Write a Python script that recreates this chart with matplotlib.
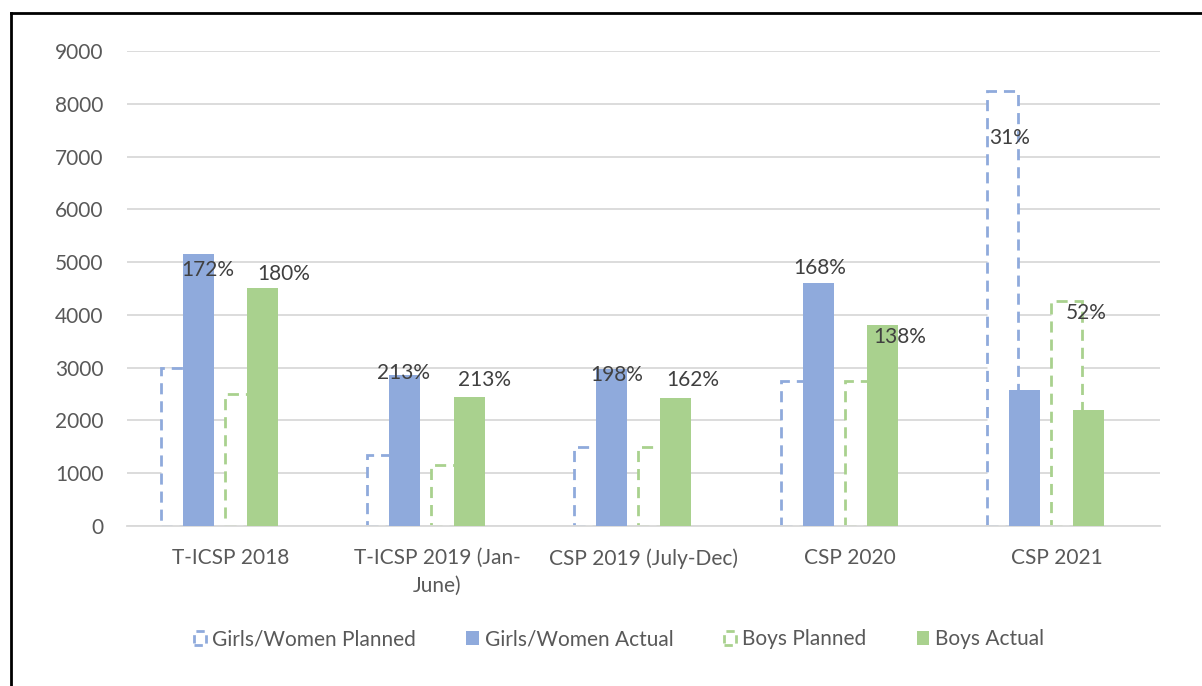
import matplotlib
matplotlib.use('Agg')
import matplotlib.pyplot as plt
from matplotlib.lines import Line2D
from matplotlib.patches import Patch
import numpy as np

plt.rcParams['font.family'] = ['Lato', 'DejaVu Sans']

categories = ["T-ICSP 2018", "T-ICSP 2019 (Jan-\nJune)", "CSP 2019 (July-Dec)",
              "CSP 2020", "CSP 2021"]
gw_planned = [3000, 1350, 1500, 2750, 8250]
gw_actual = [5150, 2860, 2970, 4600, 2580]
boys_planned = [2500, 1150, 1500, 2750, 4270]
boys_actual = [4500, 2440, 2430, 3800, 2190]
gw_pct = ["172%", "213%", "198%", "168%", "31%"]
boys_pct = ["180%", "213%", "162%", "138%", "52%"]

blue = '#8FAADC'
green = '#A9D18E'
text_col = '#595959'

fig = plt.figure(figsize=(12.02, 6.86), dpi=100)
ax = fig.add_axes([0.1057, 0.2332, 0.8595, 0.6925])

x = np.arange(len(categories))
w = 0.15

# planned series drawn first, white-filled with dashed outline
ax.bar(x - 0.262, gw_planned, w, facecolor='white', edgecolor=blue,
       linestyle=(0, (4, 2.5)), linewidth=2, zorder=2)
ax.bar(x + 0.048, boys_planned, w, facecolor='white', edgecolor=green,
       linestyle=(0, (4, 2.5)), linewidth=2, zorder=2)
ax.bar(x - 0.155, gw_actual, w, color=blue, zorder=3)
ax.bar(x + 0.155, boys_actual, w, color=green, zorder=3)

# data labels (placed roughly where the original has them)
gw_lab_y = [4850, 2900, 2870, 4880, 7350]
boys_lab_y = [4780, 2770, 2770, 3580, 4040]
gw_lab_dx = [-0.11, -0.16, -0.13, -0.15, -0.23]
boys_lab_dx = [0.26, 0.23, 0.24, 0.24, 0.14]
for i in range(len(categories)):
    ax.text(x[i] + gw_lab_dx[i], gw_lab_y[i], gw_pct[i], ha='center', va='center',
            fontsize=15, color='#404040', zorder=5)
    ax.text(x[i] + boys_lab_dx[i], boys_lab_y[i], boys_pct[i], ha='center',
            va='center', fontsize=15, color='#404040', zorder=5)

ax.set_xlim(-0.5, len(categories) - 0.5)
ax.set_ylim(0, 9000)
ax.set_yticks(range(0, 9001, 1000))
ax.set_xticks(x)
ax.set_xticklabels(categories, linespacing=1.45)
ax.tick_params(axis='both', length=0, labelsize=15, labelcolor=text_col)
ax.tick_params(axis='x', pad=16)
ax.tick_params(axis='y', pad=17)
ax.grid(axis='y', color='#D9D9D9', linewidth=1.3, zorder=0)
ax.set_axisbelow(True)
for s in ['top', 'right', 'left']:
    ax.spines[s].set_visible(False)
ax.spines['bottom'].set_color('#D9D9D9')
ax.spines['bottom'].set_linewidth(1.3)

handles = [
    Patch(facecolor='white', edgecolor=blue, linestyle=(0, (3, 2)), linewidth=2),
    Patch(facecolor=blue),
    Patch(facecolor='white', edgecolor=green, linestyle=(0, (3, 2)), linewidth=2),
    Patch(facecolor=green),
]
labels = ["Girls/Women Planned", "Girls/Women Actual", "Boys Planned", "Boys Actual"]
fig.legend(handles, labels, loc='center', bbox_to_anchor=(0.515, 0.068), ncol=4,
           frameon=False, fontsize=15, labelcolor=text_col, handlelength=0.6,
           handleheight=0.6, handletextpad=0.3, columnspacing=2.4)

# outer border (only top and left edges visible in the crop)
fig.add_artist(Line2D([11 / 1202, 1.0], [1 - 13 / 686] * 2, color='black',
                      linewidth=2, transform=fig.transFigure))
fig.add_artist(Line2D([11 / 1202] * 2, [0, 1 - 13 / 686], color='black',
                      linewidth=2, transform=fig.transFigure))

fig.savefig("out.png", dpi=100)
